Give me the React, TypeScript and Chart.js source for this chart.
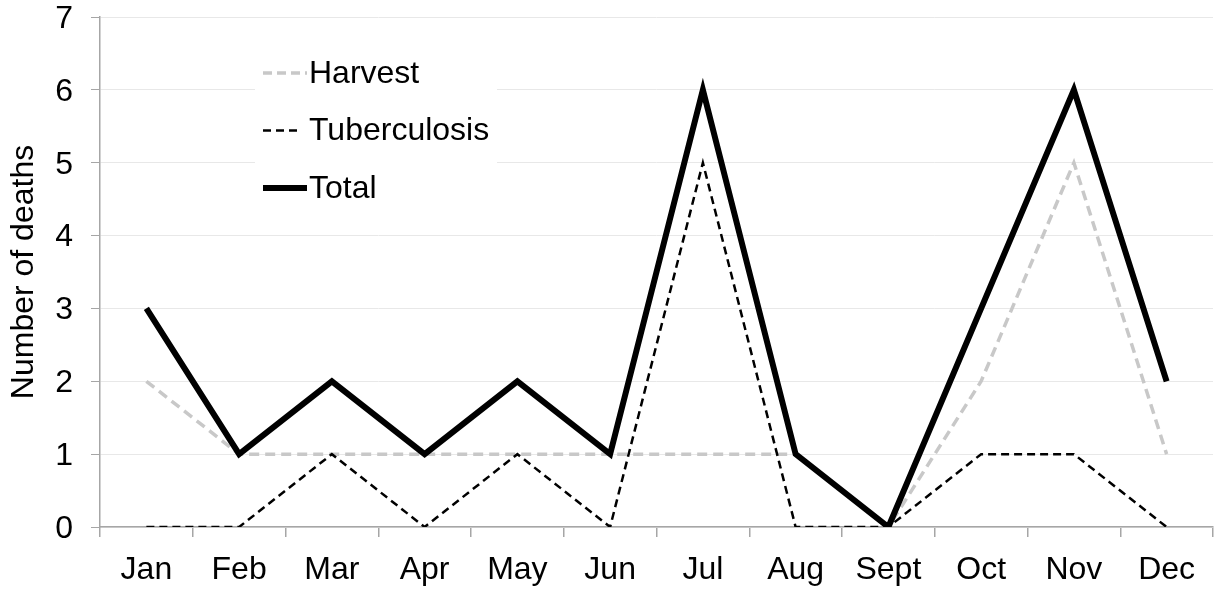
import React, { useEffect, useRef } from "react";
import { Chart, registerables } from "chart.js";

Chart.register(...registerables);

const months = ["Jan", "Feb", "Mar", "Apr", "May", "Jun", "Jul", "Aug", "Sept", "Oct", "Nov", "Dec"];
const harvest = [2, 1, 1, 1, 1, 1, 1, 1, 0, 2, 5, 1];
const tuberculosis = [0, 0, 1, 0, 1, 0, 5, 0, 0, 1, 1, 0];
const total = [3, 1, 2, 1, 2, 1, 6, 1, 0, 3, 6, 2];
const yTicks = [0, 1, 2, 3, 4, 5, 6, 7];

const FONT = "'Liberation Sans', Arial, sans-serif";

const legendItems = [
  { label: "Harvest", color: "#c8c8c8", width: 3.5, dash: [9, 5], x2: 207 },
  { label: "Tuberculosis", color: "#000000", width: 2.5, dash: [8, 5], x2: 201 },
  { label: "Total", color: "#000000", width: 6, dash: [] as number[], x2: 207 },
];

const legendPlugin = {
  id: "insideLegend",
  beforeDatasetsDraw(chart: any) {
    const ctx = chart.ctx;
    const x0 = chart.scales.x.left;
    const y0 = chart.scales.y.top;
    ctx.save();
    ctx.fillStyle = "#ffffff";
    ctx.fillRect(x0 + 155, y0 + 33, 242, 160);
    ctx.font = `32px ${FONT}`;
    ctx.textBaseline = "middle";
    legendItems.forEach((it, i) => {
      const cy = y0 + 56 + i * 57.5;
      ctx.beginPath();
      ctx.strokeStyle = it.color;
      ctx.lineWidth = it.width;
      ctx.setLineDash(it.dash);
      ctx.moveTo(x0 + 163, cy);
      ctx.lineTo(x0 + it.x2, cy);
      ctx.stroke();
      ctx.setLineDash([]);
      ctx.fillStyle = "#000000";
      ctx.fillText(it.label, x0 + 209, cy + 1);
    });
    ctx.restore();
  },
};

export default function App() {
  const ref = useRef<HTMLCanvasElement>(null);
  useEffect(() => {
    document.body.style.margin = "0";
    const chart = new Chart(ref.current!, {
      type: "line",
      data: {
        labels: months,
        datasets: [
          {
            label: "Total",
            data: total,
            borderColor: "#000000",
            borderWidth: 6,
            pointRadius: 0,
            borderJoinStyle: "miter",
            tension: 0,
          },
          {
            label: "Tuberculosis",
            data: tuberculosis,
            borderColor: "#000000",
            borderWidth: 2.5,
            borderDash: [8, 5],
            pointRadius: 0,
            borderJoinStyle: "miter",
            tension: 0,
          },
          {
            label: "Harvest",
            data: harvest,
            borderColor: "#c8c8c8",
            borderWidth: 3.5,
            borderDash: [10, 6],
            pointRadius: 0,
            borderJoinStyle: "miter",
            tension: 0,
          },
        ],
      },
      options: {
        animation: false,
        responsive: false,
        maintainAspectRatio: false,
        layout: { padding: { top: 0, right: 2, left: 0, bottom: 0 } },
        plugins: { legend: { display: false }, tooltip: { enabled: false } },
        scales: {
          x: {
            offset: true,
            grid: { offset: true, drawOnChartArea: false, tickLength: 10, tickColor: "#a6a6a6", lineWidth: 1.5 },
            border: { color: "#a6a6a6", width: 1.5 },
            ticks: { color: "#000000", font: { family: FONT, size: 32, lineHeight: 1.0 }, padding: 17, maxRotation: 0, autoSkip: false },
            afterFit: (s: any) => { s.height = 63; },
          },
          y: {
            min: 0,
            max: 7,
            afterBuildTicks: (s: any) => { s.ticks = yTicks.map((v) => ({ value: v })); },
            grid: { color: "#e8e8e8", lineWidth: 1, tickLength: 9, tickColor: "#a6a6a6" },
            border: { color: "#a6a6a6", width: 1.5 },
            ticks: { color: "#000000", font: { family: FONT, size: 32, lineHeight: 1.0 }, padding: 18, labelOffset: 2 },
            title: { display: true, text: "Number of deaths", color: "#000000", font: { family: FONT, size: 32, lineHeight: 1.0 }, padding: { top: 8, bottom: 0 } },
            afterFit: (s: any) => { s.width = 100; s.paddingTop = 17; s.paddingBottom = 10; },
          },
        },
      },
      plugins: [legendPlugin],
    });
    return () => chart.destroy();
  }, []);
  return <canvas ref={ref} width={1215} height={590} style={{ display: "block" }} />;
}
